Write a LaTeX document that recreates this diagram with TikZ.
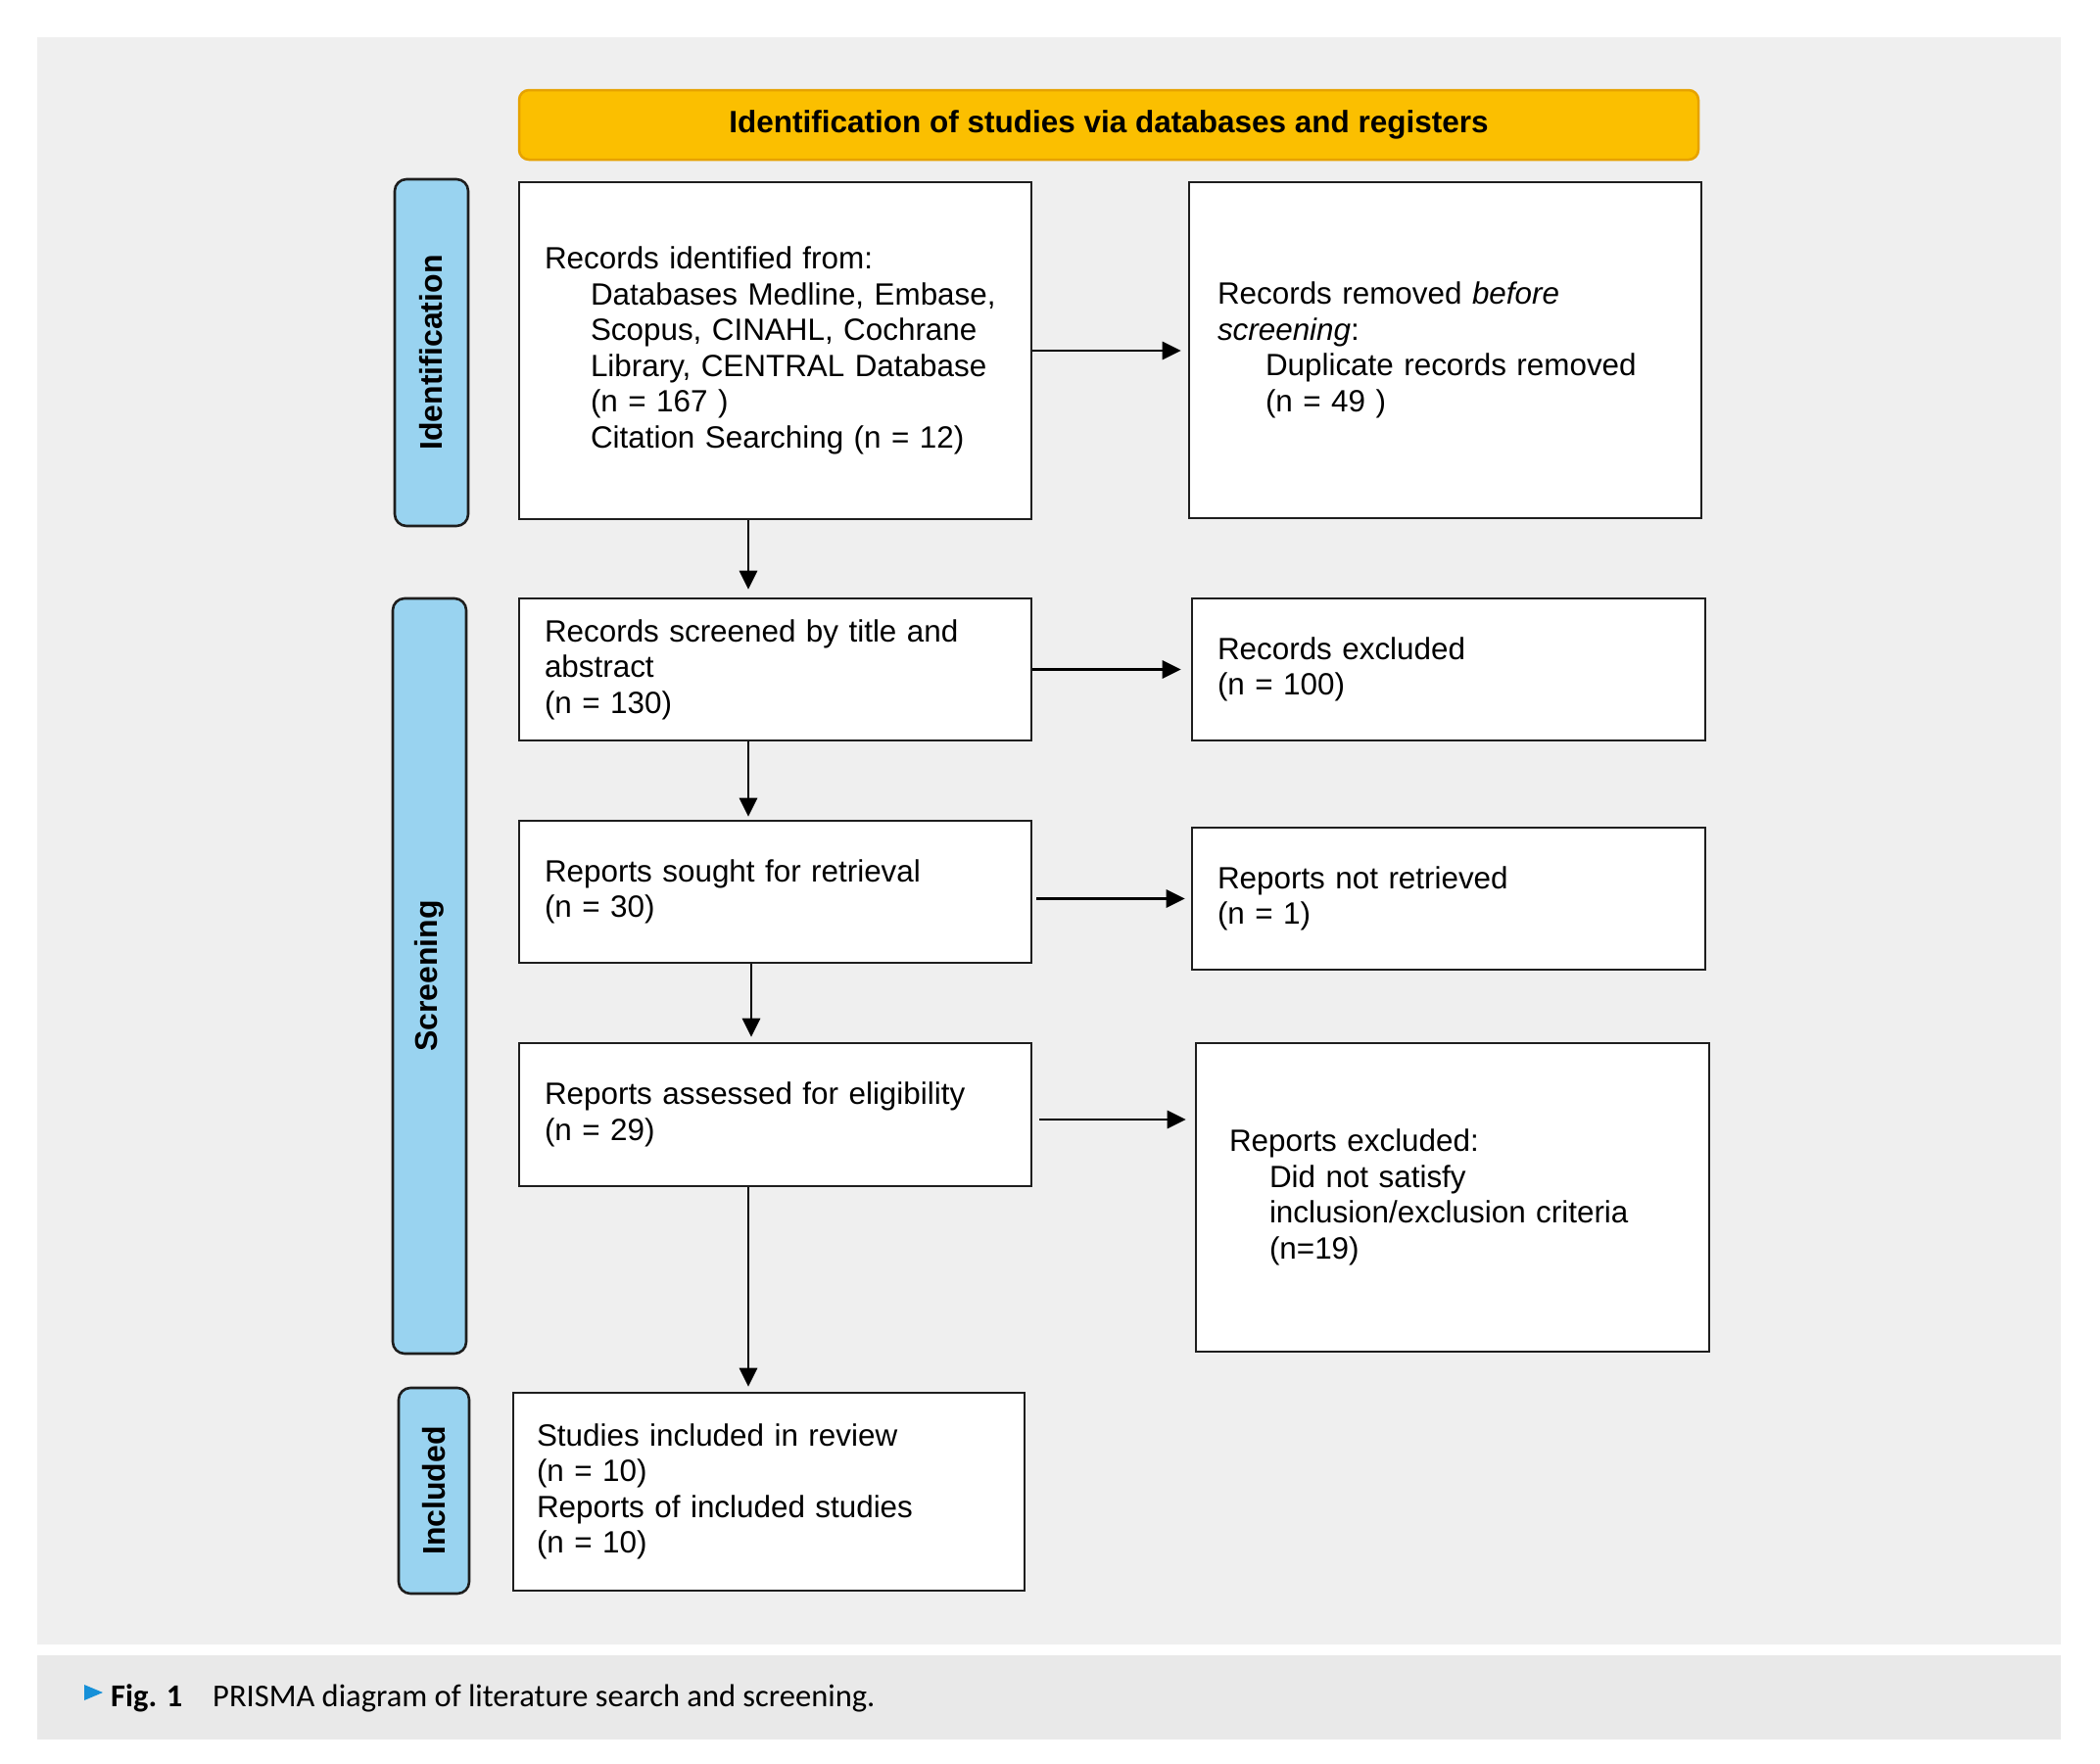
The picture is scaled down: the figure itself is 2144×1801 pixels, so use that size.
\documentclass[tikz,border=0pt]{standalone}
\usepackage{fontspec}
\setmainfont{Liberation Sans}
\newfontfamily\capfont{Carlito}
\usetikzlibrary{arrows.meta}
\definecolor{panel}{HTML}{EFEFEF}
\definecolor{cappanel}{HTML}{E9E9E9}
\definecolor{titlefill}{HTML}{FBBF00}
\definecolor{titleline}{HTML}{E6A200}
\definecolor{tabfill}{HTML}{99D3F0}
\definecolor{edge}{HTML}{1E1E1E}
\definecolor{capblue}{HTML}{1690D8}
\begin{document}
\begin{tikzpicture}[x=1pt,y=-1pt,
  box/.style={draw=edge, line width=2.6pt, fill=white, align=left,
    inner xsep=26pt, inner ysep=0pt, text width=471pt,
    font=\fontsize{31.4}{36.5}\selectfont},
  tab/.style={draw=edge, line width=2.6pt, fill=tabfill, rounded corners=12pt,
    rotate=90, inner sep=0pt, font=\bfseries\fontsize{32}{36}\selectfont},
  arr/.style={line width=2.9pt, draw=black, -{Triangle[length=19pt,width=18pt]}},
  captxt/.style={anchor=base west, inner sep=0pt, font=\capfont\fontsize{32.5}{36}\selectfont},
]
\useasboundingbox (0,0) rectangle (2144,1801);
\fill[white] (0,0) rectangle (2144,1801);
\fill[panel] (38,38) rectangle (2104,1679);
\fill[cappanel] (38,1690) rectangle (2104,1776);

% title
\node[draw=titleline, fill=titlefill, line width=2.5pt, rounded corners=10pt,
  minimum width=1204pt, minimum height=71pt, inner sep=0pt,
  font=\bfseries\fontsize{31.5}{36}\selectfont] (title) at (1132,127.5)
  {Identification of studies via databases and registers};

% phase tabs
\node[tab, minimum width=354pt, minimum height=75pt] (tid) at (440.5,360) {Identification};
\node[tab, minimum width=771pt, minimum height=75pt] (tscr) at (438.5,996.5) {Screening};
\node[tab, minimum width=210pt, minimum height=72pt] (tinc) at (443,1522) {Included};

% boxes
\node[box, minimum height=344pt] (idrec) at (791.5,358)
  {Records identified from:\\
   \hspace*{47pt}Databases Medline, Embase,\\
   \hspace*{47pt}Scopus, CINAHL, Cochrane\\
   \hspace*{47pt}Library, CENTRAL Database\\
   \hspace*{47pt}(n = 167 )\\
   \hspace*{47pt}Citation Searching (n = 12)};
\node[box, inner xsep=29pt, text width=465pt, minimum height=343pt] (removed) at (1475.5,357.5)
  {Records removed \textit{before}\\
   \textit{screening}:\\
   \hspace*{49pt}Duplicate records removed\\
   \hspace*{49pt}(n = 49 )};
\node[box, minimum height=145pt] (scr) at (791.5,683.5)
  {Records screened by title and\\ abstract\\ (n = 130)};
\node[box, text width=472pt, minimum height=145pt] (excl) at (1479,683.5)
  {Records excluded\\ (n = 100)};
\node[box, minimum height=145pt] (sought) at (791.5,910.5)
  {Reports sought for retrieval\\ (n = 30)};
\node[box, text width=472pt, minimum height=145pt] (notret) at (1479,917.5)
  {Reports not retrieved\\ (n = 1)};
\node[box, minimum height=146pt] (assess) at (791.5,1138)
  {Reports assessed for eligibility\\ (n = 29)};
\node[box, inner xsep=34pt, text width=456pt, minimum height=315pt] (repexcl) at (1483,1222.5)
  {Reports excluded:\\
   \hspace*{41pt}Did not satisfy\\
   \hspace*{41pt}inclusion/exclusion criteria\\
   \hspace*{41pt}(n=19)};
\node[box, inner xsep=24pt, text width=474pt, minimum height=202pt] (studies) at (785,1523)
  {Studies included in review\\ (n = 10)\\ Reports of included studies\\ (n = 10)};

% connectors
\draw[arr, shorten >=7pt] (idrec.east) -- (removed.west |- idrec.east);
\draw[arr, shorten >=8pt] ([xshift=-27.5pt]idrec.south) -- ([xshift=-27.5pt]idrec.south |- scr.north);
\draw[arr, shorten >=10pt] (scr.east) -- (excl.west |- scr.east);
\draw[arr, shorten >=3pt] ([xshift=-27.5pt]scr.south) -- ([xshift=-27.5pt]scr.south |- sought.north);
\draw[arr, shorten >=6pt, shorten <=4pt] (sought.east |- notret.west) -- (notret.west);
\draw[arr, shorten >=5pt] ([xshift=-24.5pt]sought.south) -- ([xshift=-24.5pt]sought.south |- assess.north);
\coordinate (ae) at ([yshift=-5pt]assess.east);
\draw[arr, shorten >=9pt, shorten <=7pt] (ae) -- (repexcl.west |- ae);
\draw[arr, shorten >=5pt] ([xshift=-27.5pt]assess.south) -- ([xshift=-27.5pt]assess.south |- studies.north);

% caption
\fill[capblue] (86,1720) -- (105,1728) -- (86,1736) -- cycle;
\node[captxt, font=\capfont\bfseries\fontsize{32.5}{36}\selectfont] (fig) at (113,1742) {Fig. 1};
\node[captxt] (captext) at (217,1742) {PRISMA diagram of literature search and screening.};
\end{tikzpicture}
\end{document}
